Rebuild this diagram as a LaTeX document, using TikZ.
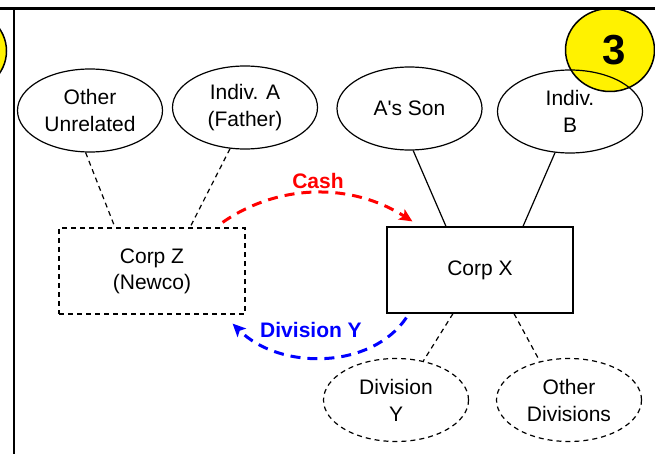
\documentclass[tikz,border=0pt]{standalone}
\usepackage{fontspec}
\setmainfont{Liberation Sans}[Ligatures=TeXOff]
\usetikzlibrary{shapes.geometric,arrows.meta,calc}
\begin{document}
\begin{tikzpicture}[x=1pt,y=-1pt,
  ent/.style={ellipse,draw,line width=1.2pt,minimum width=145pt,minimum height=83pt,inner sep=0pt,align=center,font=\fontsize{21}{27}\selectfont},
  dsh/.style={dash pattern=on 5pt off 4pt},
  corp/.style={rectangle,draw,line width=1.2pt,minimum width=186pt,minimum height=86pt,inner sep=0pt,align=center,font=\fontsize{21}{26}\selectfont},
  link/.style={line width=1.2pt},
  flow/.style={line width=3pt,dash pattern=on 10pt off 7pt,-{Stealth[length=13pt,width=12pt,inset=3pt]}},
  flowlbl/.style={font=\bfseries\fontsize{21}{25}\selectfont},
  badge/.style={ellipse,draw,fill=yellow,line width=1.5pt,minimum width=89pt,minimum height=83pt,inner sep=0pt,font=\bfseries\fontsize{42}{42}\selectfont}]
\useasboundingbox (0,0) rectangle (655,454);
\clip (0,0) rectangle (655,454);

% badges
\node[badge] (bl) at (-38,51) {};
\node[badge] (br) at (610,50) {\hspace*{8pt}3};

% frame
\draw[line width=2.5pt] (0,8.5) -- (655,8.5);
\draw[line width=2.5pt] (14,8.5) -- (14,454);

% owners
\node[ent] (ou) at (90,110.5) {Other\\Unrelated};
\node[ent] (ia) at (245,107.5) {Indiv. A\\(Father)};
\node[ent] (as) at (409.5,108.5) {A's Son};
\node[ent] (ib) at (570,111.5) {Indiv.\\B};

% corporations
\node[corp,dsh] (cz) at (152,271) {Corp Z\\(Newco)};
\node[corp] (cx) at (480,270) {Corp X};

% divisions
\node[ent,dsh] (dy) at (396,400) {Division\\Y};
\node[ent,dsh] (od) at (569,400) {Other\\Divisions};

% ownership links
\draw[link,dsh] (ou.264) -- ([xshift=-37pt]cz.north);
\draw[link,dsh] (ia.250) -- ([xshift=38pt]cz.north);
\draw[link] (as.275) -- ([xshift=-34pt]cx.north);
\draw[link] (ib.250) -- ([xshift=43pt]cx.north);
\draw[link,dsh] ([xshift=-27pt]cx.south) -- (dy.55);
\draw[link,dsh] ([xshift=34pt]cx.south) -- (od.127);

% flows
\draw[flow,red] ([xshift=-23pt,yshift=5pt]cz.north east)
  .. controls +(56,-39) and +(-61,-39) .. ([xshift=26pt,yshift=5pt]cx.north west);
\node[flowlbl,text=red] (cash) at (318,181) {Cash};
\draw[flow,blue] ([xshift=20pt,yshift=-4pt]cx.south west)
  .. controls +(-35,52) and +(47,47) .. ([xshift=-13pt,yshift=-9pt]cz.south east);
\node[flowlbl,text=blue] (divy) at (311,330) {Division Y};
\end{tikzpicture}
\end{document}
